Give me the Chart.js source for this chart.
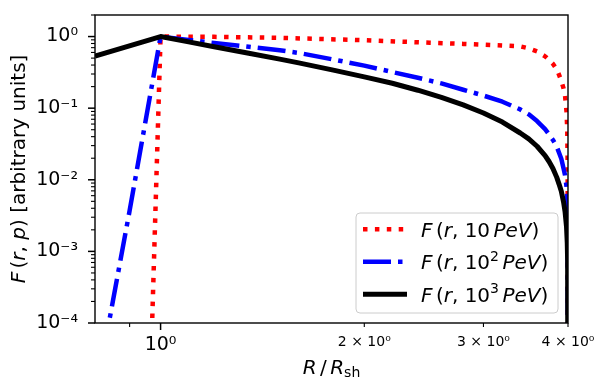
<!DOCTYPE html>
<html><head><meta charset="utf-8">
<script src="https://cdn.jsdelivr.net/npm/chart.js@4.4.0/dist/chart.umd.min.js"></script>
<style>html,body{margin:0;padding:0;background:#fff;}#wrap{width:598px;height:387px;position:relative;}</style>
</head><body><div id="wrap"><canvas id="c" width="598" height="387"></canvas></div>
<script>
// ---- data ----
const rRed   = [0.971, 1.0, 1.2, 1.5, 2.0, 2.5, 2.8, 3.0, 3.2, 3.4, 3.5, 3.6, 3.7, 3.75, 3.8, 3.85, 3.88, 3.91, 3.94, 3.96, 3.98, 3.99, 3.995, 4.0];
const fRed   = [8e-5, 1.0, 0.99, 0.96, 0.89, 0.82, 0.79, 0.77, 0.75, 0.73, 0.686, 0.62, 0.53, 0.473, 0.416, 0.348, 0.292, 0.24, 0.189, 0.15, 0.09, 0.05, 0.016, 1e-7];
const rBlue  = [0.8, 0.9, 1.0, 1.1, 1.2, 1.35, 1.5, 1.6, 1.8, 2.0, 2.2, 2.4, 2.6, 2.8, 3.0, 3.2, 3.4, 3.5, 3.6, 3.7, 3.75, 3.8, 3.85, 3.88, 3.91, 3.94, 3.96, 3.98, 3.99, 3.995, 4.0];
const fBlue  = [9e-6, 0.0037, 1.0, 0.896, 0.814, 0.72, 0.643, 0.591, 0.478, 0.393, 0.320, 0.266, 0.222, 0.181, 0.150, 0.123, 0.096, 0.082, 0.066, 0.051, 0.043, 0.036, 0.029, 0.0238, 0.0197, 0.0144, 0.0116, 0.0080, 0.0056, 0.0036, 1e-7];
const rBlack = [0.8, 1.0, 1.1, 1.2, 1.35, 1.5, 1.6, 1.8, 2.0, 2.2, 2.4, 2.6, 2.8, 3.0, 3.2, 3.4, 3.5, 3.6, 3.7, 3.75, 3.8, 3.85, 3.88, 3.91, 3.94, 3.96, 3.98, 3.99, 3.995, 4.0];
const fBlack = [0.535, 1.0, 0.842, 0.72, 0.585, 0.484, 0.429, 0.34, 0.274, 0.223, 0.178, 0.141, 0.111, 0.0856, 0.064, 0.045, 0.0373, 0.0294, 0.0218, 0.018, 0.0144, 0.0108, 0.0087, 0.0069, 0.0049, 0.0036, 0.0022, 0.0013, 0.00074, 1e-7];

const xMajorTicks = [1];
const xMinorTicks = [0.9, 2, 3, 4];
const xTickLabels = {1: '10\u2070', 2: '2 \u00d7 10\u2070', 3: '3 \u00d7 10\u2070', 4: '4 \u00d7 10\u2070'};
const yMajorTicks = [1e-4, 1e-3, 1e-2, 1e-1, 1];
const yMinorTicks = [2e-4,3e-4,4e-4,5e-4,6e-4,7e-4,8e-4,9e-4,2e-3,3e-3,4e-3,5e-3,6e-3,7e-3,8e-3,9e-3,2e-2,3e-2,4e-2,5e-2,6e-2,7e-2,8e-2,9e-2,0.2,0.3,0.4,0.5,0.6,0.7,0.8,0.9,2];
const yTickLabels = ['10\u207b\u2074', '10\u207b\u00b3', '10\u207b\u00b2', '10\u207b\u00b9', '10\u2070'];

const seriesLabels = [
  [['F','i'],['','thin'],['(','r'],['r','i'],[',','r'],[' 10','r'],['','thin'],['PeV','i'],[')','r']],
  [['F','i'],['','thin'],['(','r'],['r','i'],[',','r'],[' 10','r'],['2','sup'],['','thin'],['PeV','i'],[')','r']],
  [['F','i'],['','thin'],['(','r'],['r','i'],[',','r'],[' 10','r'],['3','sup'],['','thin'],['PeV','i'],[')','r']]
];
const xTitle = [['R','i'],['','thin'],['/','r'],['','thin'],['R','i'],['sh','sub']];
const yTitle = [['F','i'],['','thin'],['(','r'],['r','i'],[',','r'],[' ','r'],['p','i'],[')','r'],[' [arbitrary units]','r']];

// ---- helpers ----
const FAM = '"DejaVu Sans"';
function fontStr(st, size){ return (st==='i' ? 'italic ' : '') + size + 'px ' + FAM; }
function layoutRich(ctx, segs, size){
  let x = 0; const items = [];
  for (const [t, st] of segs){
    if (st === 'thin'){ x += size*0.17; continue; }
    let s = size, dy = 0, f;
    if (st === 'sup'){ s = size*0.7; dy = -size*0.42; f = fontStr('r', s); }
    else if (st === 'sub'){ s = size*0.7; dy = size*0.16; f = fontStr('r', s); }
    else f = fontStr(st, s);
    ctx.font = f; const w = ctx.measureText(t).width;
    items.push({t, f, x, dy}); x += w;
  }
  return {items, width: x};
}
function drawRich(ctx, segs, size, x0, baseline, align){
  const L = layoutRich(ctx, segs, size);
  const start = align === 'center' ? x0 - L.width/2 : x0;
  ctx.textBaseline = 'alphabetic'; ctx.textAlign = 'left'; ctx.fillStyle = '#000';
  for (const it of L.items){ ctx.font = it.f; ctx.fillText(it.t, start + it.x, baseline + it.dy); }
}

const styles = [
  {color:'#ff0000', width:4.5, dash:[4.5, 7.4]},
  {color:'#0000ff', width:4.5, dash:[28, 7, 4.5, 7]},
  {color:'#000000', width:5, dash:[]}
];

const decor = {
  id: 'decor',
  afterDraw(chart){
    const {ctx, chartArea: a, scales: {x, y}} = chart;
    ctx.save();
    ctx.strokeStyle = '#000'; ctx.lineWidth = 1.4; ctx.setLineDash([]);
    ctx.strokeRect(a.left, a.top, a.right - a.left, a.bottom - a.top);
    ctx.lineCap = 'butt';
    const tick = (x1, y1, x2, y2, w) => { ctx.lineWidth = w; ctx.beginPath(); ctx.moveTo(x1, y1); ctx.lineTo(x2, y2); ctx.stroke(); };
    xMajorTicks.forEach(v => { const p = x.getPixelForValue(v); tick(p, a.bottom, p, a.bottom + 7, 1.5); });
    xMinorTicks.forEach(v => { const p = x.getPixelForValue(v); tick(p, a.bottom, p, a.bottom + 4, 1.1); });
    yMajorTicks.forEach(v => { const p = y.getPixelForValue(v); tick(a.left - 7, p, a.left, p, 1.5); });
    yMinorTicks.forEach(v => { const p = y.getPixelForValue(v); tick(a.left - 4, p, a.left, p, 1.1); });
    drawRich(ctx, xTitle, 20, (a.left + a.right)/2, 374, 'center');
    ctx.save();
    ctx.translate(25, (a.top + a.bottom)/2);
    ctx.rotate(-Math.PI/2);
    drawRich(ctx, yTitle, 20, 0, 0, 'center');
    ctx.restore();
    const bx = 356, by = 213, bw = 202, bh = 100, r = 4;
    ctx.beginPath();
    ctx.moveTo(bx + r, by); ctx.lineTo(bx + bw - r, by); ctx.quadraticCurveTo(bx + bw, by, bx + bw, by + r);
    ctx.lineTo(bx + bw, by + bh - r); ctx.quadraticCurveTo(bx + bw, by + bh, bx + bw - r, by + bh);
    ctx.lineTo(bx + r, by + bh); ctx.quadraticCurveTo(bx, by + bh, bx, by + bh - r);
    ctx.lineTo(bx, by + r); ctx.quadraticCurveTo(bx, by, bx + r, by); ctx.closePath();
    ctx.fillStyle = 'rgba(255,255,255,0.8)'; ctx.fill();
    ctx.strokeStyle = '#cccccc'; ctx.lineWidth = 1; ctx.stroke();
    const baselines = [236.5, 269, 301.5];
    for (let i = 0; i < 3; i++){
      const s = styles[i], ly = baselines[i] - 7.3;
      ctx.strokeStyle = s.color; ctx.lineWidth = s.width; ctx.setLineDash(s.dash); ctx.lineCap = 'butt';
      ctx.beginPath(); ctx.moveTo(363, ly); ctx.lineTo(407, ly); ctx.stroke();
      ctx.setLineDash([]);
      drawRich(ctx, seriesLabels[i], 20, 421, baselines[i], 'left');
    }
    ctx.restore();
  }
};

const mk = (rs, fs) => rs.map((r, i) => ({x: r, y: fs[i]}));
const dsBase = {pointRadius: 0, pointHoverRadius: 0, fill: false, tension: 0, clip: 0, borderCapStyle: 'butt', borderJoinStyle: 'round'};

new Chart(document.getElementById('c'), {
  type: 'line',
  data: {datasets: [
    Object.assign({label: 'F(r, 10 PeV)', data: mk(rRed, fRed), borderColor: styles[0].color, borderWidth: styles[0].width, borderDash: styles[0].dash, order: 3}, dsBase),
    Object.assign({label: 'F(r, 10² PeV)', data: mk(rBlue, fBlue), borderColor: styles[1].color, borderWidth: styles[1].width, borderDash: styles[1].dash, order: 2}, dsBase),
    Object.assign({label: 'F(r, 10³ PeV)', data: mk(rBlack, fBlack), borderColor: styles[2].color, borderWidth: styles[2].width, order: 1}, dsBase)
  ]},
  options: {
    responsive: false, animation: false, devicePixelRatio: 1,
    layout: {padding: {left: 0, right: 30, top: 15, bottom: 0}},
    plugins: {legend: {display: false}, tooltip: {enabled: false}, title: {display: false}},
    scales: {
      x: {
        type: 'logarithmic', min: 0.8, max: 4,
        afterBuildTicks: s => { s.ticks = xMajorTicks.concat(xMinorTicks).sort((a,b)=>a-b).map(v => ({value: v})); },
        afterFit: s => { s.height = 64; s.paddingLeft = 0; s.paddingRight = 0; },
        grid: {drawOnChartArea: false, drawTicks: true, tickLength: 7, color: 'rgba(0,0,0,0)', tickColor: 'rgba(0,0,0,0)'},
        border: {display: false},
        ticks: {
          autoSkip: false, maxRotation: 0, minRotation: 0, padding: 4, color: '#000',
          callback: v => xTickLabels[v] || '',
          font: c => ({family: 'DejaVu Sans', size: (c.tick && c.tick.value === 1) ? 19 : 14})
        }
      },
      y: {
        type: 'logarithmic', min: 1e-4, max: 2,
        afterBuildTicks: s => { s.ticks = yMajorTicks.concat(yMinorTicks).sort((a,b)=>a-b).map(v => ({value: v})); },
        afterFit: s => { s.width = 95; s.paddingTop = 0; s.paddingBottom = 0; },
        grid: {drawOnChartArea: false, drawTicks: true, tickLength: 7, color: 'rgba(0,0,0,0)', tickColor: 'rgba(0,0,0,0)'},
        border: {display: false},
        ticks: {
          autoSkip: false, padding: 10, color: '#000',
          callback: v => { const k = yMajorTicks.indexOf(v); return k >= 0 ? yTickLabels[k] : ''; },
          font: {family: 'DejaVu Sans', size: 19}
        }
      }
    }
  },
  plugins: [decor]
});
</script>
</body></html>
